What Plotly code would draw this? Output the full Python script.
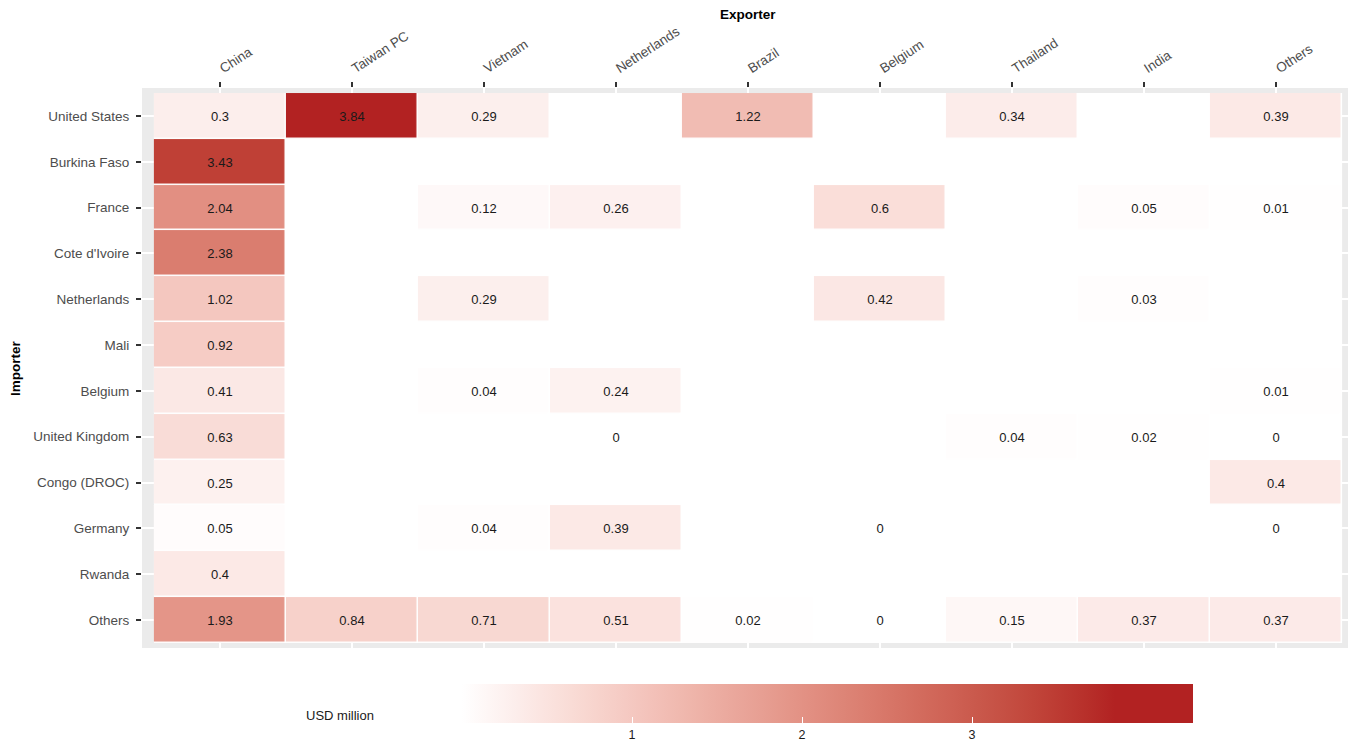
import plotly.graph_objects as go
import numpy as np

# ---------------- data ----------------
exporters = ["China", "Taiwan PC", "Vietnam", "Netherlands", "Brazil",
             "Belgium", "Thailand", "India", "Others"]
importers = ["United States", "Burkina Faso", "France", "Cote d'Ivoire",
             "Netherlands", "Mali", "Belgium", "United Kingdom",
             "Congo (DROC)", "Germany", "Rwanda", "Others"]
N = None
values = [
    [0.30, 3.84, 0.29, N,    1.22, N,    0.34, N,    0.39],  # United States
    [3.43, N,    N,    N,    N,    N,    N,    N,    N],     # Burkina Faso
    [2.04, N,    0.12, 0.26, N,    0.60, N,    0.05, 0.01],  # France
    [2.38, N,    N,    N,    N,    N,    N,    N,    N],     # Cote d'Ivoire
    [1.02, N,    0.29, N,    N,    0.42, N,    0.03, N],     # Netherlands
    [0.92, N,    N,    N,    N,    N,    N,    N,    N],     # Mali
    [0.41, N,    0.04, 0.24, N,    N,    N,    N,    0.01],  # Belgium
    [0.63, N,    N,    0.00, N,    N,    0.04, 0.02, 0.00],  # United Kingdom
    [0.25, N,    N,    N,    N,    N,    N,    N,    0.40],  # Congo (DROC)
    [0.05, N,    0.04, 0.39, N,    0.00, N,    N,    0.00],  # Germany
    [0.40, N,    N,    N,    N,    N,    N,    N,    N],     # Rwanda
    [1.93, 0.84, 0.71, 0.51, 0.02, 0.00, 0.15, 0.37, 0.37],  # Others
]
colorbar_ticks = [1, 2, 3]
scale_top = 3.84     # value reaching full colour
scale_max = 4.30     # end of colour bar

# ---------------- colour scale (Lab interpolation white -> firebrick) ----------------
def srgb_to_lin(c):
    c = c / 255.0
    return np.where(c <= 0.04045, c / 12.92, ((c + 0.055) / 1.055) ** 2.4)

def lin_to_srgb(c):
    c = np.clip(c, 0, 1)
    v = np.where(c <= 0.0031308, c * 12.92, 1.055 * c ** (1 / 2.4) - 0.055)
    return np.clip(np.round(v * 255), 0, 255).astype(int)

M = np.array([[0.4124, 0.3576, 0.1805], [0.2126, 0.7152, 0.0722], [0.0193, 0.1192, 0.9505]])
Minv = np.linalg.inv(M)
WP = np.array([0.95047, 1.0, 1.08883])

def f(t):
    d = 6 / 29
    return np.where(t > d ** 3, np.cbrt(t), t / (3 * d * d) + 4 / 29)

def finv(t):
    d = 6 / 29
    return np.where(t > d, t ** 3, 3 * d * d * (t - 4 / 29))

def rgb_to_lab(rgb):
    xyz = M @ srgb_to_lin(np.array(rgb, float)) / WP
    fx, fy, fz = f(xyz)
    return np.array([116 * fy - 16, 500 * (fx - fy), 200 * (fy - fz)])

def lab_to_rgb(lab):
    L, a, b = lab
    fy = (L + 16) / 116
    fx = fy + a / 500
    fz = fy - b / 200
    xyz = finv(np.array([fx, fy, fz])) * WP
    return lin_to_srgb(Minv @ xyz)

lo = rgb_to_lab([255, 255, 255])
hi = rgb_to_lab([178, 34, 34])
colorscale = []
nst = 24
for i in range(nst + 1):
    t = i / nst
    r, g, b = lab_to_rgb(lo + (hi - lo) * t)
    colorscale.append([t * scale_top / scale_max, f"rgb({r},{g},{b})"])
colorscale.append([1.0, "rgb(178,34,34)"])

z = [[np.nan if v is None else v for v in row] for row in values]
text = [["" if v is None else f"{v:g}" for v in row] for row in values]

FONT = "Liberation Sans, Arial, sans-serif"

# page body has an 8px margin: figure is offset by (8, 8) in the window
W, H = 1348, 735
PL, PR, PT, PB = 134, 1346, 80, 640   # plot area in figure pixels
PW, PH = PR - PL, PB - PT

def px(xf):
    return (xf - PL) / PW

def py(yf):
    return (PB - yf) / PH

fig = go.Figure()
fig.add_trace(go.Heatmap(
    x=exporters, y=importers, z=z, text=text,
    texttemplate="%{text}",
    textfont=dict(family=FONT, size=13, color="#1A1A1A"),
    colorscale=colorscale, zmin=0, zmax=scale_max,
    xgap=1.5, ygap=1.5, hoverinfo="skip",
    colorbar=dict(
        orientation="h", lenmode="pixels", len=731, thickness=39,
        x=px(819.5), xanchor="center",
        y=py(676), yanchor="top", ypad=0, xpad=0,
        outlinewidth=0, tickvals=colorbar_ticks,
        ticks="inside", ticklen=6, tickcolor="white", tickwidth=1,
        tickfont=dict(family=FONT, size=12.5, color="#1A1A1A"),
    ),
))

fig.add_shape(type="rect", xref="x", yref="y", x0=-0.5, x1=8.5, y0=-0.5, y1=11.5,
              fillcolor="white", line=dict(width=0), layer="below")

fig.update_layout(
    width=W, height=H,
    margin=dict(l=PL, r=W - PR, t=PT, b=H - PB, autoexpand=False),
    paper_bgcolor="white", plot_bgcolor="#EBEBEB",
    font=dict(family=FONT, size=13, color="#4D4D4D"),
    xaxis=dict(side="top", type="category", categoryorder="array", categoryarray=exporters,
               range=[-0.59, 8.59], showgrid=True, gridcolor="white", gridwidth=1.5,
               ticks="outside", ticklen=5, tickwidth=2, tickcolor="#333333",
               tickangle=-33, tickfont=dict(size=13.5, color="#4D4D4D"),
               ticklabelstandoff=2,
               zeroline=False, showline=False, automargin=False),
    yaxis=dict(type="category", categoryorder="array", categoryarray=importers,
               range=[11.61, -0.61], showgrid=True, gridcolor="white", gridwidth=1.5,
               ticks="outside", ticklen=5, tickwidth=2, tickcolor="#333333",
               tickfont=dict(size=13.5, color="#4D4D4D"),
               ticklabelstandoff=4,
               zeroline=False, showline=False, automargin=False),
    annotations=[
        dict(text="<b>Exporter</b>", xref="paper", yref="paper", x=0.5, y=py(6),
             showarrow=False, xanchor="center", yanchor="middle",
             font=dict(size=13.5, color="black")),
        dict(text="<b>Importer</b>", xref="paper", yref="paper", x=px(7),
             y=0.5, textangle=-90, showarrow=False, xanchor="center", yanchor="middle",
             font=dict(size=13.5, color="black")),
        dict(text="USD million", xref="paper", yref="paper", x=px(332),
             y=py(707), showarrow=False, xanchor="center", yanchor="middle",
             font=dict(size=13, color="#1A1A1A")),
    ],
)

fig.write_html("out.html")
